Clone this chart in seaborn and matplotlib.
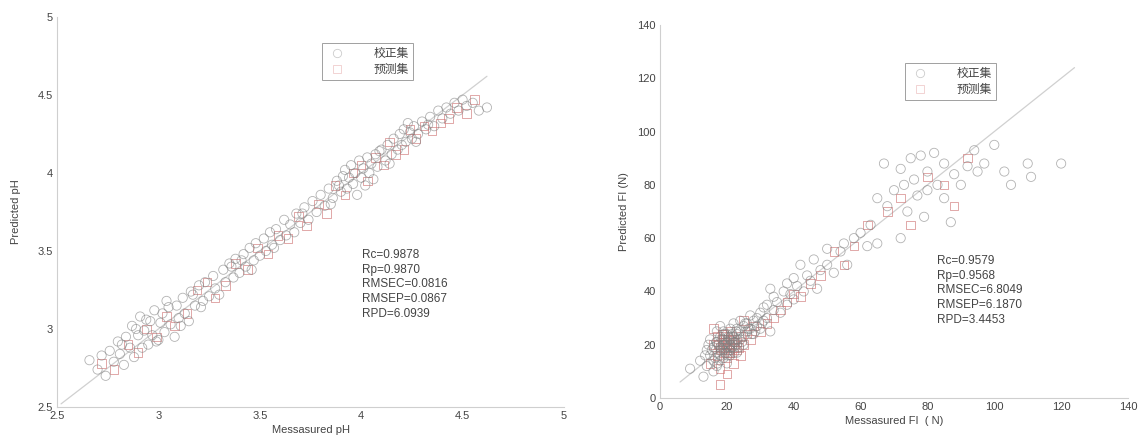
import matplotlib
matplotlib.use("Agg")
import matplotlib.pyplot as plt
from matplotlib.lines import Line2D
import seaborn as sns
import pandas as pd

# ---------------- data ----------------
cal_ph_x = [2.66, 2.70, 2.72, 2.74, 2.76, 2.78, 2.80, 2.81, 2.83, 2.84, 2.86, 2.87, 2.88, 2.90, 2.91, 2.92,
            2.93, 2.95, 2.96, 2.97, 2.98, 3.00, 3.01, 3.02, 3.03, 3.05, 3.06, 3.08, 3.09, 3.10, 3.12, 3.13,
            3.15, 3.17, 3.18, 3.20, 3.22, 3.23, 3.25, 3.27, 3.28, 3.30, 3.32, 3.33, 3.35, 3.37, 3.38, 3.40,
            3.42, 3.43, 3.45, 3.47, 3.48, 3.50, 3.52, 3.53, 3.55, 3.57, 3.58, 3.60, 3.62, 3.63, 3.65, 3.67,
            3.68, 3.70, 3.72, 3.74, 3.76, 3.78, 3.80, 3.82, 3.84, 3.86, 3.88, 3.90, 3.91, 3.92, 3.93, 3.94,
            3.95, 3.96, 3.97, 3.98, 3.99, 4.00, 4.01, 4.02, 4.03, 4.04, 4.05, 4.06, 4.07, 4.08, 4.10, 4.12,
            4.13, 4.15, 4.16, 4.18, 4.19, 4.20, 4.21, 4.22, 4.23, 4.25, 4.26, 4.28, 4.30, 4.32, 4.34, 4.36,
            4.38, 4.40, 4.42, 4.44, 4.46, 4.48, 4.50, 4.52, 4.55, 4.58, 4.62,
            2.82, 2.89, 2.94, 2.99, 3.04, 3.11, 3.16, 3.21, 3.36, 3.41, 3.46, 3.56, 3.71, 3.85, 3.89, 4.09,
            4.14, 4.24, 4.27, 4.33]
cal_ph_y = [2.80, 2.74, 2.83, 2.70, 2.86, 2.79, 2.92, 2.84, 2.77, 2.95, 2.88, 3.02, 2.82, 2.96, 3.08, 2.88,
            2.99, 2.90, 3.05, 2.96, 3.12, 2.93, 3.04, 3.10, 2.98, 3.14, 3.03, 2.95, 3.15, 3.07, 3.20, 3.10,
            3.05, 3.22, 3.15, 3.28, 3.18, 3.30, 3.21, 3.34, 3.26, 3.22, 3.38, 3.30, 3.42, 3.33, 3.45, 3.36,
            3.48, 3.40, 3.52, 3.44, 3.55, 3.47, 3.58, 3.50, 3.62, 3.52, 3.64, 3.57, 3.70, 3.60, 3.67, 3.62,
            3.74, 3.68, 3.78, 3.70, 3.82, 3.75, 3.86, 3.79, 3.90, 3.84, 3.95, 3.88, 3.98, 4.02, 3.90, 3.97,
            4.05, 3.93, 4.00, 3.86, 4.08, 3.97, 4.03, 3.92, 4.10, 4.00, 4.06, 3.96, 4.12, 4.04, 4.15, 4.08,
            4.18, 4.12, 4.22, 4.15, 4.25, 4.18, 4.28, 4.20, 4.32, 4.22, 4.30, 4.25, 4.33, 4.28, 4.36, 4.30,
            4.40, 4.35, 4.42, 4.38, 4.45, 4.40, 4.47, 4.43, 4.45, 4.40, 4.42,
            2.90, 3.00, 3.06, 2.92, 3.18, 3.02, 3.24, 3.14, 3.40, 3.44, 3.38, 3.54, 3.74, 3.80, 3.92, 4.14,
            4.06, 4.26, 4.20, 4.31]

pred_ph_x = [2.72, 2.78, 2.85, 2.90, 2.94, 2.99, 3.04, 3.08, 3.14, 3.19, 3.24, 3.28, 3.33, 3.38, 3.44, 3.49,
             3.54, 3.59, 3.64, 3.69, 3.73, 3.79, 3.83, 3.87, 3.92, 3.96, 4.00, 4.03, 4.07, 4.11, 4.14, 4.17,
             4.21, 4.24, 4.27, 4.31, 4.35, 4.39, 4.43, 4.47, 4.52, 4.56]
pred_ph_y = [2.78, 2.74, 2.90, 2.85, 3.00, 2.95, 3.08, 3.02, 3.10, 3.25, 3.30, 3.20, 3.28, 3.42, 3.38, 3.52,
             3.48, 3.60, 3.58, 3.72, 3.66, 3.80, 3.74, 3.92, 3.86, 4.00, 4.05, 3.95, 4.10, 4.05, 4.20, 4.12,
             4.15, 4.28, 4.22, 4.30, 4.27, 4.32, 4.35, 4.42, 4.38, 4.47]

cal_fi_x = [9, 12, 13, 14, 14, 15, 15, 16, 16, 16, 17, 17, 17, 17, 18, 18, 18, 18, 18, 19, 19, 19, 19, 19,
            20, 20, 20, 20, 20, 21, 21, 21, 21, 21, 22, 22, 22, 22, 23, 23, 23, 23, 24, 24, 24, 25, 25, 25,
            26, 26, 27, 27, 28, 28, 29, 29, 30, 30, 31, 31, 32, 32, 33, 34, 34, 35, 36, 37, 38, 38, 39, 40,
            40, 41, 42, 43, 44, 45, 46, 47, 48, 50, 50, 52, 54, 55, 56, 58, 60, 62, 63, 65, 67, 68, 70, 72,
            72, 73, 74, 75, 76, 77, 78, 79, 80, 80, 82, 83, 85, 85, 87, 88, 90, 92, 94, 95, 97, 100, 103,
            105, 110, 111, 120, 65, 33,
            15.5, 16.5, 17.5, 18.5, 19.5, 20.5, 21.5, 22.5, 17.2, 18.2, 19.2, 20.2, 21.2, 22.2, 23.2, 16.8,
            18.8, 20.8, 22.8, 24.5, 26.5, 28.5, 19.6, 21.6, 23.6, 25.5, 27.5, 30.5, 14.5, 13.5]
cal_fi_y = [11, 14, 8, 18, 12, 16, 22, 10, 19, 14, 21, 17, 25, 12, 19, 16, 23, 14, 27, 20, 18, 22, 15, 25,
            21, 17, 19, 24, 13, 20, 22, 18, 26, 16, 23, 19, 21, 28, 24, 20, 26, 17, 25, 22, 29, 23, 27, 20,
            28, 25, 26, 31, 29, 24, 30, 27, 32, 26, 34, 29, 35, 30, 41, 33, 38, 36, 32, 40, 43, 35, 39, 45,
            37, 42, 50, 40, 46, 44, 52, 41, 48, 50, 56, 47, 55, 58, 50, 60, 62, 57, 65, 75, 88, 72, 78, 60,
            86, 80, 70, 90, 82, 76, 91, 68, 85, 78, 92, 80, 75, 88, 66, 84, 80, 87, 93, 85, 88, 95, 85,
            80, 88, 83, 88, 58, 25,
            18, 15, 20, 22, 17, 23, 19, 21, 13, 18, 24, 16, 23, 17, 22, 21, 20, 19, 25, 21, 26, 25, 20, 24,
            19, 28, 24, 28, 20, 16]

pred_fi_x = [15, 16, 17, 17, 18, 18, 19, 19, 19, 20, 20, 20, 21, 21, 21, 22, 22, 23, 23, 24, 25, 26, 27, 28,
             30, 32, 34, 36, 38, 40, 42, 45, 48, 52, 55, 58, 62, 68, 72, 75, 80, 85, 88, 92, 18, 20, 22, 25,
             16, 24,
             17.5, 18.5, 19.5, 20.5, 21.5, 19, 20, 21, 18, 22, 23.5, 20.5, 19.5, 18.5]
pred_fi_y = [13, 20, 16, 23, 18, 11, 21, 17, 24, 19, 15, 22, 20, 17, 25, 19, 22, 21, 18, 23, 20, 24, 22, 27,
             25, 28, 30, 33, 36, 39, 38, 43, 46, 55, 50, 57, 65, 70, 75, 65, 83, 80, 72, 90, 5, 9, 13, 29,
             26, 16,
             20, 21, 19, 22, 20, 22, 20, 18, 19, 21, 19, 17, 23, 24]

stats_ph = ["Rc=0.9878", "Rp=0.9870", "RMSEC=0.0816", "RMSEP=0.0867", "RPD=6.0939"]
stats_fi = ["Rc=0.9579", "Rp=0.9568", "RMSEC=6.8049", "RMSEP=6.1870", "RPD=3.4453"]
legend_labels = ["校正集", "预测集"]

# ---------------- style ----------------
sns.set_style("white")
plt.rcParams["font.family"] = ["Liberation Sans", "Noto Sans CJK SC", "DejaVu Sans"]

CAL_COL = "#808080"
PRED_COL = "#d07878"
TXT = "#444444"
AX_COL = "#cfcfcf"

fig = plt.figure(figsize=(11.38, 4.46), dpi=100)
ax1 = fig.add_axes([57/1138, 1-407/446, (564-57)/1138, (407-17)/446])
ax2 = fig.add_axes([660/1138, 1-398/446, (1128-660)/1138, (398-25)/446])


def draw(ax, cx, cy, px, py, line_rng):
    df_c = pd.DataFrame({"x": cx, "y": cy})
    df_p = pd.DataFrame({"x": px, "y": py})
    sns.lineplot(x=list(line_rng), y=list(line_rng), ax=ax, color="#d0d0d0", linewidth=0.9, zorder=1)
    n0 = len(ax.collections)
    sns.scatterplot(data=df_c, x="x", y="y", ax=ax, marker="o", s=44, linewidth=0.6, zorder=3)
    c1 = ax.collections[n0]
    c1.set_facecolor("none"); c1.set_edgecolor(CAL_COL); c1.set_alpha(0.6)
    sns.scatterplot(data=df_p, x="x", y="y", ax=ax, marker="s", s=38, linewidth=0.6, zorder=2)
    c2 = ax.collections[n0 + 1]
    c2.set_facecolor("none"); c2.set_edgecolor(PRED_COL); c2.set_alpha(0.75)


draw(ax1, cal_ph_x, cal_ph_y, pred_ph_x, pred_ph_y, (2.52, 4.62))
draw(ax2, cal_fi_x, cal_fi_y, pred_fi_x, pred_fi_y, (6, 124))

ax1.set_xlim(2.5, 5); ax1.set_ylim(2.5, 5)
ax1.set_xticks([2.5, 3, 3.5, 4, 4.5, 5]); ax1.set_yticks([2.5, 3, 3.5, 4, 4.5, 5])
ax1.set_xticklabels(["2.5", "3", "3.5", "4", "4.5", "5"])
ax1.set_yticklabels(["2.5", "3", "3.5", "4", "4.5", "5"])
ax2.set_xlim(0, 140); ax2.set_ylim(0, 140)
ax2.set_xticks(range(0, 141, 20)); ax2.set_yticks(range(0, 141, 20))

ax1.set_xlabel("Messasured pH", fontsize=8, color=TXT, labelpad=3)
ax1.set_ylabel("Predicted pH", fontsize=8, color=TXT, labelpad=12)
ax2.set_xlabel("Messasured FI  ( N)", fontsize=8, color=TXT, labelpad=3)
ax2.set_ylabel("Predicted FI (N)", fontsize=8, color=TXT, labelpad=6)

for ax in (ax1, ax2):
    sns.despine(ax=ax)
    for s in ("left", "bottom"):
        ax.spines[s].set_color(AX_COL)
        ax.spines[s].set_linewidth(0.8)
    ax.tick_params(direction="in", length=3, width=0.6, color="#999999",
                   labelsize=8, labelcolor=TXT, pad=3)
    ax.grid(False)

handles = [Line2D([], [], marker="o", linestyle="none", markerfacecolor="none",
                  markeredgecolor="#cccccc", markersize=6, markeredgewidth=0.6),
           Line2D([], [], marker="s", linestyle="none", markerfacecolor="none",
                  markeredgecolor="#f0cccc", markersize=5.5, markeredgewidth=0.6)]

for bx, by in ((322/1138, 1-43/446), (905/1138, 1-63/446)):
    leg = fig.legend(handles, legend_labels, loc="upper left", bbox_to_anchor=(bx, by),
                     frameon=True, fancybox=False, fontsize=8.5, handletextpad=2.2,
                     borderpad=0.35, labelspacing=0.25, handlelength=1.8, borderaxespad=0)
    leg.get_frame().set_edgecolor("#888888")
    leg.get_frame().set_linewidth(0.7)
    for t in leg.get_texts():
        t.set_color(TXT)
        t.set_fontfamily(["Noto Sans CJK SC", "DejaVu Sans"])

fig.text(362/1138, 1-249/446, "\n".join(stats_ph), fontsize=8.5, color=TXT,
         va="top", ha="left", linespacing=1.3)
fig.text(937/1138, 1-255/446, "\n".join(stats_fi), fontsize=8.5, color=TXT,
         va="top", ha="left", linespacing=1.3)

fig.savefig("out.png", dpi=100)
